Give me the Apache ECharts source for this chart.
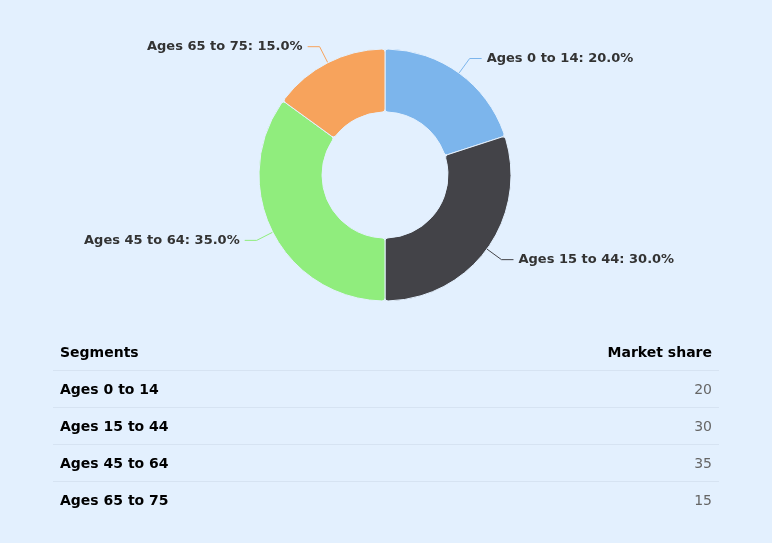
<!DOCTYPE html>
<html>
<head>
<meta charset="utf-8">
<script src="https://cdn.jsdelivr.net/npm/echarts@6/dist/echarts.min.js"></script>
<style>
  body { margin: 0; background: #e3f0fe; font-family: "DejaVu Sans", Verdana, sans-serif; }
  #chart { position: absolute; left: 0; top: 0; width: 772px; height: 340px; }
  table { position: absolute; left: 53px; top: 334px; width: 666px; border-collapse: collapse; font-size: 14px; }
  th, td { height: 36px; padding: 0 7px; border-bottom: 1px solid #d6e3f2; }
  th { font-weight: bold; color: #000; }
  td.name { font-weight: bold; color: #000; }
  td.val { text-align: right; color: #666; }
  tr:last-child td { border-bottom: none; }
</style>
</head>
<body>
<div id="chart"></div>
<table id="tbl">
  <thead><tr><th style="text-align:left">Segments</th><th style="text-align:right">Market share</th></tr></thead>
  <tbody></tbody>
</table>
<script>
var segments = ['Ages 0 to 14', 'Ages 15 to 44', 'Ages 45 to 64', 'Ages 65 to 75'];
var shares = [20, 30, 35, 15];
var colors = ['#7cb5ec', '#434348', '#90ed7d', '#f7a35c'];

var tbody = document.querySelector('#tbl tbody');
segments.forEach(function(s, i) {
  var tr = document.createElement('tr');
  tr.innerHTML = '<td class="name">' + s + '</td><td class="val">' + shares[i] + '</td>';
  tbody.appendChild(tr);
});

var myChart = echarts.init(document.getElementById('chart'));
myChart.setOption({
  backgroundColor: 'transparent',
  color: colors,
  series: [{
    type: 'pie',
    center: [385, 175],
    radius: [63, 126],
    startAngle: 90,
    clockwise: true,
    itemStyle: { borderColor: '#e3f0fe', borderWidth: 1, borderRadius: 3 },
    label: {
      formatter: function(p) { return p.name + ': ' + p.percent.toFixed(1) + '%'; },
      fontFamily: 'DejaVu Sans',
      fontWeight: 'bold',
      fontSize: 13,
      color: '#333'
    },
    labelLine: { length: 18, length2: 12, lineStyle: { width: 1 } },
    data: segments.map(function(s, i) { return { name: s, value: shares[i] }; })
  }]
});
</script>
</body>
</html>
